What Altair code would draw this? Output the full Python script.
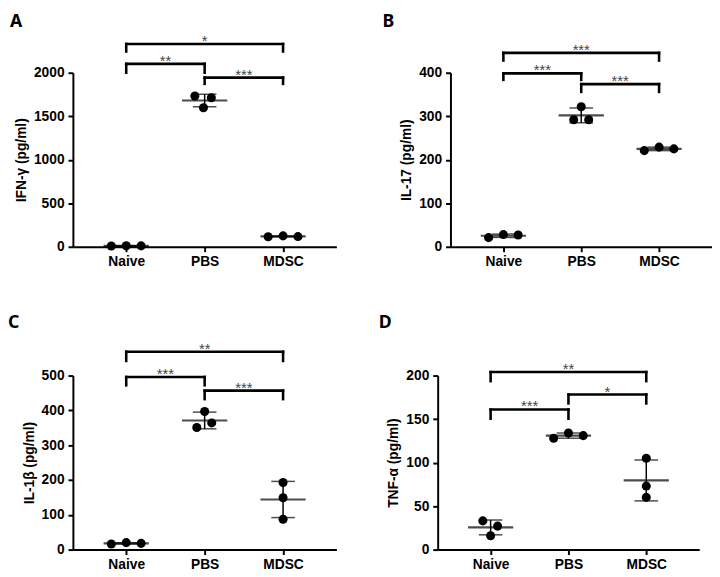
import altair as alt
import pandas as pd

groups = ["Naive", "PBS", "MDSC"]

# ---- Panel A : IFN-gamma ----
a_vals = [[9, 12, 10], [1733, 1712, 1598], [115, 125, 117]]
a_jit = [[-0.19, 0, 0.19], [-0.125, 0.085, -0.015], [-0.19, 0, 0.19]]
a_mean = [10, 1681, 119]
a_sd = [2, 72, 5]
a_ticks = [0, 500, 1000, 1500, 2000]
a_brackets = [("Naive", "MDSC", 2331, 2244, "*"),
              ("Naive", "PBS", 2102, 2000, "**"),
              ("PBS", "MDSC", 1944, 1872, "***")]

# ---- Panel B : IL-17 ----
b_vals = [[21, 28, 27], [322, 292, 292], [221, 229, 225]]
b_jit = [[-0.19, 0, 0.19], [0, -0.096, 0.096], [-0.19, 0, 0.19]]
b_mean = [25.3, 302, 225]
b_sd = [3.8, 17, 4]
b_ticks = [0, 100, 200, 300, 400]
b_brackets = [("Naive", "MDSC", 445.6, 428, "***"),
              ("Naive", "PBS", 398.5, 383.6, "***"),
              ("PBS", "MDSC", 373.8, 356, "***")]

# ---- Panel C : IL-1beta ----
c_vals = [[16, 20, 18], [351, 397, 364], [193, 149, 87]]
c_jit = [[-0.19, 0, 0.19], [-0.1, 0, 0.09], [0, 0, 0]]
c_mean = [18, 371, 144]
c_sd = [2, 24, 52]
c_ticks = [0, 100, 200, 300, 400, 500]
c_brackets = [("Naive", "MDSC", 568.6, 542, "**"),
              ("Naive", "PBS", 496, 472, "***"),
              ("PBS", "MDSC", 456.8, 432.3, "***")]

# ---- Panel D : TNF-alpha ----
d_vals = [[33, 27, 16], [128, 134, 131], [105, 73, 60]]
d_jit = [[-0.1, 0.09, 0], [-0.19, 0, 0.19], [0, 0, 0]]
d_mean = [25.5, 131, 79.5]
d_sd = [8.5, 3, 23.5]
d_ticks = [0, 50, 100, 150, 200]
d_brackets = [("Naive", "MDSC", 204, 193.6, "**"),
              ("PBS", "MDSC", 178.2, 168, "*"),
              ("Naive", "PBS", 161, 150.4, "***")]

label_expr = "[" + ",".join("'%s'" % g for g in groups) + "][datum.value]"


def panel(letter, ytitle, vals, jit, mean, sd, ticks, brackets, width, letter_dx, letter_dy):
    pts = pd.DataFrame([{"g": i + jit[i][k], "v": vals[i][k]}
                        for i in range(len(groups)) for k in range(len(vals[i]))])
    summ = pd.DataFrame({"g": list(range(len(groups))), "m": mean,
                         "lo": [m - s for m, s in zip(mean, sd)],
                         "hi": [m + s for m, s in zip(mean, sd)]})
    br = pd.DataFrame([{"x1": groups.index(a), "x2": groups.index(b),
                        "xm": (groups.index(a) + groups.index(b)) / 2,
                        "top": t, "end": e, "star": s} for a, b, t, e, s in brackets])

    xscale = alt.Scale(domain=[-0.68, 2.68], nice=False, zero=False)
    xaxis = alt.Axis(values=[0, 1, 2], labelExpr=label_expr, title=None, grid=False,
                     labelFlush=False, labelPadding=3)
    yscale = alt.Scale(domain=[0, ticks[-1]], nice=False)
    yaxis = alt.Axis(values=ticks, format="d", title=ytitle, grid=False, labelPadding=4,
                     titlePadding=5)

    def X(f):
        return alt.X(f, type="quantitative", scale=xscale, axis=xaxis)

    def Y(f):
        return alt.Y(f, type="quantitative", scale=yscale, axis=yaxis)

    sd_line = alt.Chart(summ).mark_rule(color="black", strokeWidth=1.5).encode(
        x=X("g"), y=Y("lo"), y2="hi")
    caps_lo = alt.Chart(summ).mark_tick(orient="horizontal", size=24, thickness=1.5,
                                        color="black").encode(x=X("g"), y=Y("lo"))
    caps_hi = alt.Chart(summ).mark_tick(orient="horizontal", size=24, thickness=1.5,
                                        color="black").encode(x=X("g"), y=Y("hi"))
    mean_line = alt.Chart(summ).mark_tick(orient="horizontal", size=46, thickness=2.2,
                                          color="black").encode(x=X("g"), y=Y("m"))
    dots = alt.Chart(pts).mark_point(filled=True, size=85, color="black", opacity=1).encode(
        x=X("g"), y=Y("v"))

    b_h = alt.Chart(br).mark_rule(color="black", strokeWidth=2.6, strokeCap="square").encode(
        x=X("x1"), x2="x2", y=Y("top"))
    b_l = alt.Chart(br).mark_rule(color="black", strokeWidth=2.6, strokeCap="square").encode(
        x=X("x1"), y=Y("end"), y2="top")
    b_r = alt.Chart(br).mark_rule(color="black", strokeWidth=2.6, strokeCap="square").encode(
        x=X("x2"), y=Y("end"), y2="top")
    stars = alt.Chart(br).mark_text(font="Liberation Sans", fontSize=15, color="#444444",
                                    baseline="alphabetic", dy=2).encode(
        x=X("xm"), y=Y("top"), text="star:N")

    lab = alt.Chart(pd.DataFrame({"t": [letter]})).mark_text(
        font="Noto Sans", fontWeight="bold", fontSize=18, align="left",
        baseline="alphabetic", color="black").encode(
        x=alt.value(letter_dx), y=alt.value(letter_dy), text="t:N")

    return alt.layer(sd_line, caps_lo, caps_hi, mean_line, dots, b_h, b_l, b_r, stars, lab
                     ).properties(width=width, height=177)


pa = panel("A", "IFN-γ (pg/ml)", a_vals, a_jit, a_mean, a_sd, a_ticks, a_brackets, 268, -64, -47)
pb = panel("B", "IL-17 (pg/ml)", b_vals, b_jit, b_mean, b_sd, b_ticks, b_brackets, 266, -69, -47)
pc = panel("C", "IL-1β (pg/ml)", c_vals, c_jit, c_mean, c_sd, c_ticks, c_brackets, 268, -66, -48)
pd_ = panel("D", "TNF-α (pg/ml)", d_vals, d_jit, d_mean, d_sd, d_ticks, d_brackets, 266, -60, -48)

row1 = alt.hconcat(pa, pb, spacing=47)
row2 = alt.hconcat(pc, pd_, spacing=43)

chart = alt.vconcat(row1, row2, spacing=47).properties(
    padding=0, background="white"
).configure_axis(
    domainColor="black", domainWidth=2, tickColor="black", tickWidth=2, tickSize=5,
    labelFont="Liberation Sans", labelFontWeight="bold", labelFontSize=14,
    labelColor="black", titleFont="Liberation Sans", titleFontWeight="bold",
    titleFontSize=14, titleColor="black", grid=False
).configure_view(stroke=None)

chart.save("out.html", embed_options={"renderer": "svg", "actions": False})
